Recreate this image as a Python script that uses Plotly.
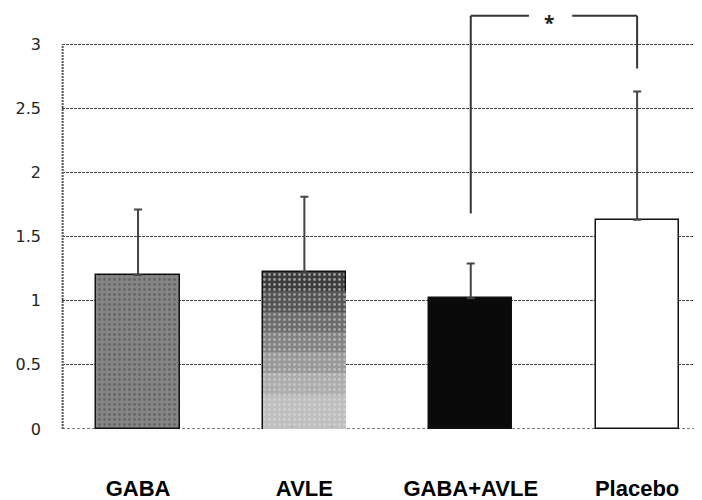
import plotly.graph_objects as go

categories = ["GABA", "AVLE", "GABA+AVLE", "Placebo"]
means = [1.2, 1.22, 1.02, 1.63]
sd_upper = [0.51, 0.59, 0.27, 1.0]
y_ticks = [0, 0.5, 1, 1.5, 2, 2.5, 3]
tick_text = ["0", "0.5", "1", "1.5", "2", "2.5", "3"]
# significance bracket: between GABA+AVLE and Placebo
sig_pair = ["GABA+AVLE", "Placebo"]
sig_bottoms = [1.68, 2.81]
sig_top = 3.22
sig_label = "*"

fig = go.Figure()

fills = ["#858585", "#3c3c3c", "#0a0a0a", "#ffffff"]
patterns = [".", ".", "", ""]
fig.add_trace(go.Bar(
    x=categories, y=means, width=0.5,
    marker=dict(color=fills, line=dict(color="#111", width=1.5),
                pattern=dict(shape=patterns, fgcolor="#d0d0d0", size=5, solidity=0.25)),
    error_y=dict(type="data", symmetric=False, array=sd_upper,
                 arrayminus=[0]*4, color="#444", thickness=2, width=4),
    showlegend=False,
))

# gradient overlay for AVLE (dark top -> light bottom)
grad_fracs = [0.88, 0.75, 0.62, 0.49, 0.36, 0.22]
grad_cols = ["#555555", "#6c6c6c", "#838383", "#999999", "#adadad", "#bebebe"]
avle_val = means[1]
for f, c in zip(grad_fracs, grad_cols):
    fig.add_trace(go.Bar(
        x=["AVLE"], y=[avle_val * f], width=0.5,
        marker=dict(color=c, line=dict(width=0),
                    pattern=dict(shape=".", fgcolor="#e2e2e2", size=5, solidity=0.25)),
        showlegend=False, hoverinfo="skip",
    ))

# significance bracket
line_style = dict(color="#333", width=2)
fig.add_shape(type="line", x0=sig_pair[0], x1=sig_pair[0], y0=sig_bottoms[0], y1=sig_top, line=line_style)
fig.add_shape(type="line", x0=sig_pair[1], x1=sig_pair[1], y0=sig_bottoms[1], y1=sig_top, line=line_style)
fig.add_shape(type="line", x0=sig_pair[0], x1=2.35, y0=sig_top, y1=sig_top, line=line_style)
fig.add_shape(type="line", x0=2.61, x1=sig_pair[1], y0=sig_top, y1=sig_top, line=line_style)
fig.add_annotation(x=2.47, xref="x", y=1, yref="paper", yanchor="top", yshift=4,
                   text="<b>" + sig_label + "</b>", showarrow=False,
                   font=dict(size=19, color="#222"))

# left axis line (dotted) only up to 3, and dashed baseline
fig.add_shape(type="line", xref="paper", x0=0.001, x1=0.001, y0=0, y1=3,
              line=dict(color="#555", width=2, dash="2px,1px"))
fig.add_shape(type="line", xref="paper", x0=0, x1=1, y0=0, y1=0,
              line=dict(color="#555", width=1.5, dash="3px,2px"), layer="below")

fig.update_layout(
    width=702, height=500,
    margin=dict(l=54, r=8, t=4, b=79),
    plot_bgcolor="white", paper_bgcolor="white",
    barmode="overlay",
    bargap=0,
    xaxis=dict(range=[-0.457, 3.39], showgrid=False, zeroline=False, showline=False,
               ticks="", ticklabelstandoff=44, automargin=False,
               tickfont=dict(family="Liberation Sans, Arial", size=22, color="black", weight="bold")),
    yaxis=dict(range=[0, 3.25], tickvals=y_ticks, ticktext=tick_text, showgrid=True,
               gridcolor="#444", gridwidth=1, griddash="3px,1px", zeroline=False,
               showline=False, ticks="", ticklabelstandoff=20, automargin=False,
               tickfont=dict(family="DejaVu Sans", size=16, color="#222")),
)

fig.write_html("out.html")
